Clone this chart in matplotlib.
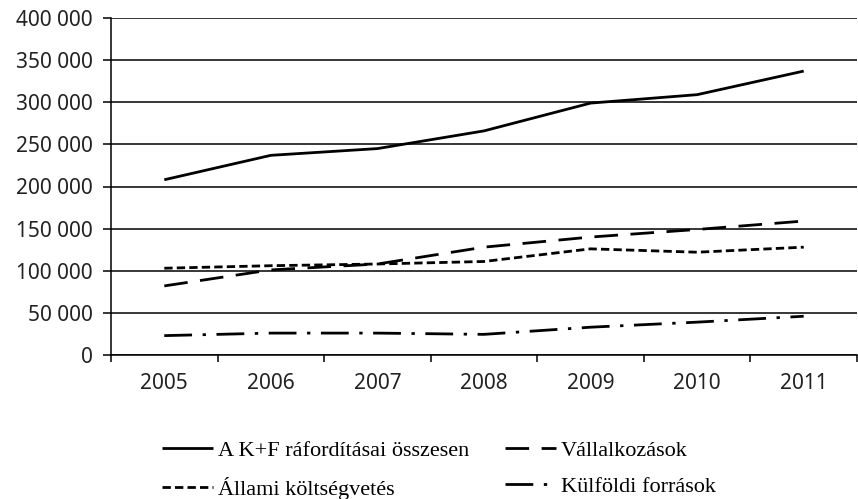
import matplotlib
matplotlib.use("Agg")
import matplotlib.pyplot as plt
from matplotlib.ticker import FuncFormatter, FixedLocator

years = ["2005", "2006", "2007", "2008", "2009", "2010", "2011"]
total = [208000, 237000, 245000, 266000, 299000, 309000, 337000]
vallalkozasok = [82000, 101000, 108000, 128000, 140000, 149000, 159000]
allami = [103000, 106000, 108000, 111000, 126000, 122000, 128000]
kulfoldi = [23000, 26000, 26000, 24500, 33000, 39000, 46000]

labels = ["A K+F ráfordításai összesen", "Vállalkozások",
          "Állami költségvetés", "Külföldi források"]

plt.rcParams['font.family'] = ['Liberation Serif', 'DejaVu Serif']
tick_font = ['Noto Sans', 'DejaVu Sans']

fig = plt.figure(figsize=(8.58, 4.99), dpi=100)
ax = fig.add_axes([111/858, 1 - 355/499, (857-111)/858, (355-18)/499])

x = list(range(len(years)))
lw = 2.0
l1, = ax.plot(x, total, color='black', lw=lw, linestyle='-', solid_capstyle='butt')
l2, = ax.plot(x, vallalkozasok, color='black', lw=lw, linestyle=(0, (8.5, 4.5)), dash_capstyle='butt')
l3, = ax.plot(x, allami, color='black', lw=lw, linestyle=(0, (3, 1.5)), dash_capstyle='butt')
l4, = ax.plot(x, kulfoldi, color='black', lw=lw, linestyle=(0, (10, 3.8, 1.2, 3.8)), dash_capstyle='butt')

ax.set_ylim(0, 400000)
ax.set_xlim(-0.5, 6.5)
ax.set_yticks(range(0, 400001, 50000))
ax.yaxis.set_major_formatter(FuncFormatter(lambda v, p: f"{int(v):,}".replace(",", " ")))
ax.grid(axis='y', color='black', lw=1.1)
ax.set_axisbelow(True)

ax.set_xticks(x)
ax.set_xticklabels(years)
ax.xaxis.set_minor_locator(FixedLocator([i - 0.5 for i in range(len(years) + 1)]))
ax.tick_params(axis='x', which='major', length=0, pad=13, labelsize=15)
ax.tick_params(axis='x', which='minor', length=5, width=1.1, direction='out')
ax.tick_params(axis='y', length=6, width=1.1, labelsize=15, pad=7)
for t in ax.get_xticklabels() + ax.get_yticklabels():
    t.set_family(tick_font)
    t.set_color('#222222')

for s in ['top', 'right']:
    ax.spines[s].set_visible(False)
ax.spines['left'].set_linewidth(1.1)
ax.spines['bottom'].set_linewidth(1.1)

fig.legend([l1, l3, l2, l4], [labels[0], labels[2], labels[1], labels[3]],
           ncol=2, frameon=False, fontsize=16, handlelength=2.3, handletextpad=0.22,
           labelspacing=0.7, columnspacing=1.6, borderpad=0, borderaxespad=0,
           loc='center left', bbox_to_anchor=(162/858, 1 - 470/499))

fig.savefig("out.png", dpi=100)
